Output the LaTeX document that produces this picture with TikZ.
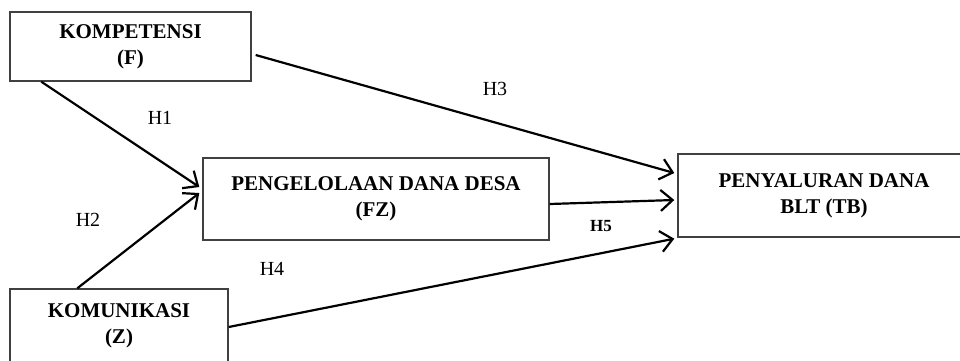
\documentclass[tikz,border=0pt]{standalone}
\usepackage{fontspec}
\setmainfont{Liberation Serif}
\usetikzlibrary{arrows.meta}
\begin{document}
\begin{tikzpicture}[x=1pt,y=-1pt,
  box/.style={draw=black!75, line width=1.4pt, rectangle, inner sep=0pt, align=center,
    font=\fontsize{21}{26}\selectfont\bfseries},
  conn/.style={line width=2.2pt, -{Straight Barb[length=12pt,width=21pt,line width=2.2pt]}},
  hyp/.style={font=\fontsize{20}{22}\selectfont, inner sep=0pt},
  hypb/.style={font=\fontsize{17}{20}\selectfont\bfseries, inner sep=0pt}]
\useasboundingbox (0,0) rectangle (960,360);
\clip (0,0) rectangle (960,360);
\node[box, minimum width=241pt, minimum height=69pt] (F) at (130.5,46.5) {KOMPETENSI\\(F)};
\node[box, minimum width=346pt, minimum height=82pt] (FZ) at (376,199) {PENGELOLAAN DANA DESA\\(FZ)};
\node[box, minimum width=292pt, minimum height=83pt] (TB) at (824,195.5) {PENYALURAN DANA\\BLT (TB)};
\node[box, minimum width=218pt, minimum height=74pt] (Z) at (119,326) {KOMUNIKASI\\(Z)};
\draw[conn] ([xshift=32pt]F.south west) -- ([xshift=-3pt,yshift=12pt]FZ.west);
\draw[conn] ([xshift=68pt]Z.north west) -- ([xshift=-3pt,yshift=6pt]FZ.west);
\draw[conn] ([xshift=4pt,yshift=-8.5pt]F.east) -- ([xshift=-3pt,yshift=22.5pt]TB.west);
\draw[conn] ([yshift=-5pt]FZ.east) -- ([xshift=-3pt,yshift=-4.5pt]TB.west);
\draw[conn] ([yshift=-1pt]Z.east) -- ([xshift=-3pt,yshift=-1pt]TB.south west);
\node[hyp] (h1) at (160,118) {H1};
\node[hyp] (h2) at (88,220) {H2};
\node[hyp] (h3) at (495,89) {H3};
\node[hyp] (h4) at (272,269) {H4};
\node[hypb] (h5) at (601,226) {H5};
\end{tikzpicture}
\end{document}
